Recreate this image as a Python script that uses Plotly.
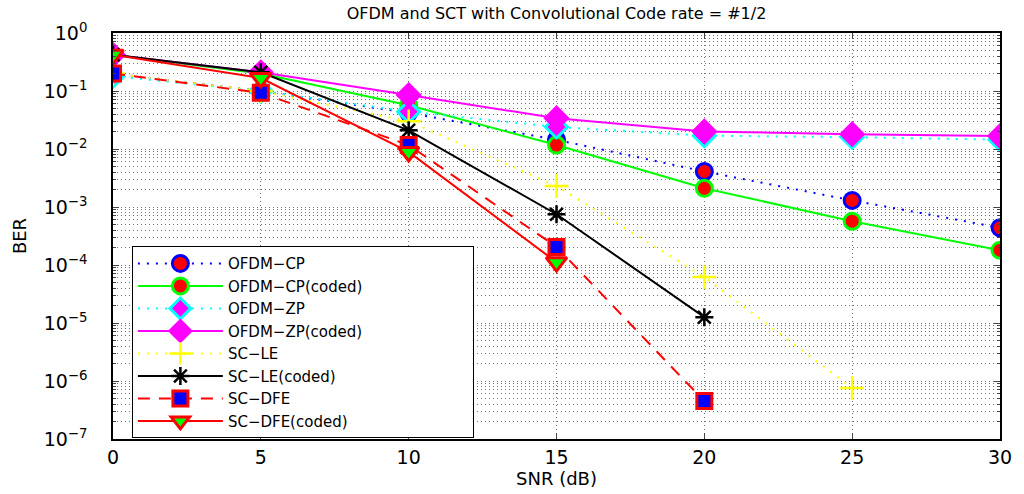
import plotly.graph_objects as go

snr = [0, 5, 10, 15, 20, 25, 30]

ofdm_cp = [0.2, 0.1, 0.042, 0.0144, 0.0041, 0.0013, 0.00044]
ofdm_cp_coded = [0.42, 0.2, 0.057, 0.0117, 0.0021, 0.00057, 0.00018]
ofdm_zp = [0.18, 0.1, 0.044, 0.024, 0.017, 0.016, 0.0145]
ofdm_zp_coded = [0.42, 0.21, 0.085, 0.034, 0.020, 0.018, 0.0167]
sc_le = [0.2, 0.1, 0.03, 0.0023, 6.2e-5, 7.6e-7]
sc_le_coded = [0.42, 0.21, 0.021, 0.00075, 1.26e-5]
sc_dfe = [0.2, 0.093, 0.0117, 0.000205, 4.5e-7]
sc_dfe_coded = [0.42, 0.167, 0.0089, 0.000112]

y_tick_vals = [1e-7, 1e-6, 1e-5, 1e-4, 1e-3, 1e-2, 1e-1, 1]
y_tick_text = ["10<sup>−7</sup>", "10<sup>−6</sup>", "10<sup>−5</sup>", "10<sup>−4</sup>",
               "10<sup>−3</sup>", "10<sup>−2</sup>", "10<sup>−1</sup>", "10<sup>0</sup>"]
x_tick_vals = [0, 5, 10, 15, 20, 25, 30]

FONT = "DejaVu Sans"
DOT = "2px,7px"
# non-breaking spaces keep the legend box as wide as a MATLAB legend
PAD = "\u00a0" * 22

series = [
    dict(name="OFDM−CP", y=ofdm_cp, color="#0000ff", dash=DOT,
         symbol="circle", face="#ff0000", edge="#0000ff", size=16),
    dict(name="OFDM−CP(coded)", y=ofdm_cp_coded, color="#00ff00", dash="solid",
         symbol="circle", face="#ff0000", edge="#00ff00", size=16),
    dict(name="OFDM−ZP", y=ofdm_zp, color="#00ffff", dash=DOT,
         symbol="diamond", face="#ff00ff", edge="#00ffff", size=17),
    dict(name="OFDM−ZP(coded)", y=ofdm_zp_coded, color="#ff00ff", dash="solid",
         symbol="diamond", face="#ff00ff", edge="#ff00ff", size=17),
    dict(name="SC−LE", y=sc_le, color="#ffff00", dash=DOT,
         symbol="cross-thin", face="#ffff00", edge="#ffff00", size=17),
    dict(name="SC−LE(coded)", y=sc_le_coded, color="#000000", dash="solid",
         symbol="asterisk", face="#000000", edge="#000000", size=15),
    dict(name="SC−DFE", y=sc_dfe, color="#ff0000", dash="12px,9px",
         symbol="square", face="#0000ff", edge="#ff0000", size=15),
    dict(name="SC−DFE(coded)", y=sc_dfe_coded, color="#ff0000", dash="solid",
         symbol="triangle-down", face="#00ff00", edge="#ff0000", size=18),
]

fig = go.Figure()
for s in series:
    lw = 2.5 if s["symbol"] in ("cross-thin", "asterisk") else 3
    fig.add_trace(go.Scatter(
        x=snr[:len(s["y"])], y=s["y"], name=s["name"] + PAD, mode="lines+markers",
        line=dict(color=s["color"], width=2, dash=s["dash"]),
        marker=dict(symbol=s["symbol"], size=s["size"], color=s["face"],
                    line=dict(color=s["edge"], width=lw)),
    ))

grid_col = "rgba(0,0,0,0.55)"
minor_vals = [k * 10.0 ** e for e in range(-7, 0) for k in range(2, 10)]

fig.update_layout(
    width=1024, height=494,
    margin=dict(l=113, r=18, t=33, b=55),
    paper_bgcolor="white", plot_bgcolor="white",
    font=dict(family=FONT, color="black", size=17),
    title=dict(text="OFDM and SCT with Convolutional Code rate = #1/2",
               x=0.5, xref="paper", xanchor="center", y=0.972, yanchor="middle",
               font=dict(family=FONT, size=16)),
    showlegend=True,
    legend=dict(x=0.0213, y=0.475, xanchor="left", yanchor="top",
                bgcolor="white", bordercolor="black", borderwidth=1,
                font=dict(family=FONT, size=15), itemwidth=85,
                tracegroupgap=0),
    xaxis=dict(range=[0, 30], tickvals=x_tick_vals, ticks="inside", ticklen=6,
               showline=True, linecolor="black", linewidth=1.5, mirror="ticks",
               showgrid=True, gridcolor=grid_col, griddash="1px,3px", gridwidth=1,
               zeroline=False, tickfont=dict(family=FONT, size=19),
               title=dict(text="SNR (dB)", standoff=2, font=dict(family=FONT, size=18))),
    yaxis=dict(type="log", range=[-7, 0], tickmode="array", tickvals=y_tick_vals,
               ticktext=y_tick_text, ticks="inside", ticklen=6, ticklabelstandoff=20,
               showline=True, linecolor="black", linewidth=1.5, mirror="ticks",
               showgrid=True, gridcolor=grid_col, griddash="1px,3px", gridwidth=1,
               zeroline=False, tickfont=dict(family=FONT, size=19),
               minor=dict(tickmode="array", tickvals=minor_vals, ticks="inside",
                          ticklen=3, showgrid=True, gridcolor=grid_col,
                          griddash="1px,3px", gridwidth=1),
               title=dict(text="BER", standoff=12, font=dict(family=FONT, size=18))),
)

fig.write_html("out.html")
